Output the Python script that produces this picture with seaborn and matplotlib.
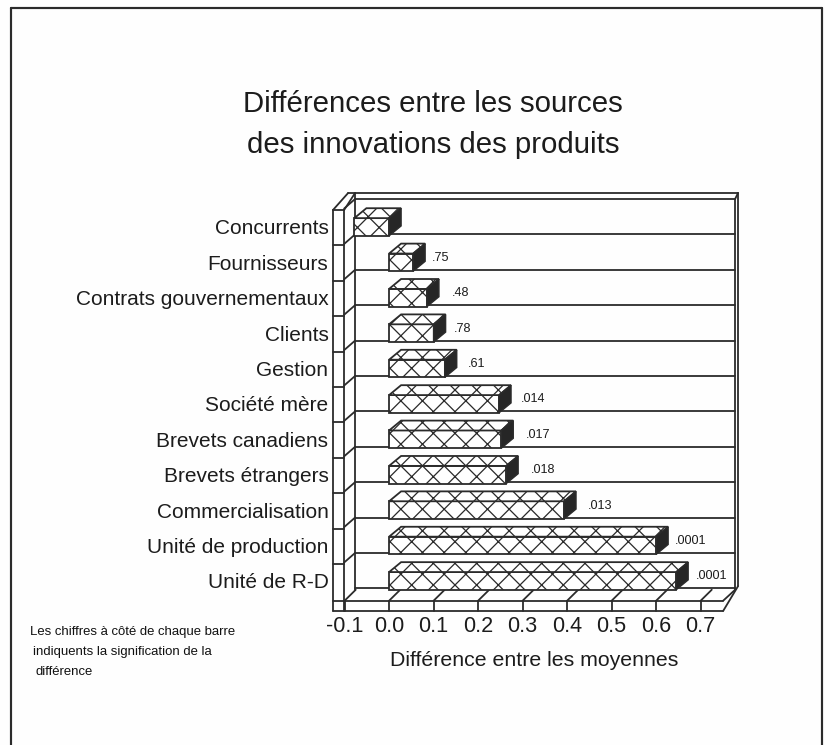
import pandas as pd
import seaborn as sns
import matplotlib
matplotlib.use('Agg')
import matplotlib.pyplot as plt
from matplotlib.lines import Line2D
from matplotlib.patches import Polygon

sources = ['Concurrents', 'Fournisseurs', 'Contrats gouvernementaux', 'Clients', 'Gestion',
           'Société mère', 'Brevets canadiens', 'Brevets étrangers', 'Commercialisation',
           'Unité de production', 'Unité de R-D']
diffs = [-0.078, 0.054, 0.085, 0.10, 0.125, 0.247, 0.252, 0.263, 0.393, 0.60, 0.645]
signif = ['', '.75', '.48', '.78', '.61', '.014', '.017', '.018', '.013', '.0001', '.0001']
xticks = [-0.1, 0.0, 0.1, 0.2, 0.3, 0.4, 0.5, 0.6, 0.7]
note_lines = ['Les chiffres à côté de chaque barre',
              'indiquents la signification de la',
              'différence']

# gap in pixels between bar end and its label, varies in the original
label_gaps = [0, 19, 25, 20, 23, 22, 25, 25, 24, 19, 20]

INK = '#2b2b2b'
TEXT = '#1c1c1c'
DPI = 130
W, H = 825, 745

sns.set_theme(style='white')
plt.rcParams['font.family'] = ['Liberation Sans', 'DejaVu Sans']
plt.rcParams['hatch.linewidth'] = 0.7
plt.rcParams['hatch.color'] = INK

fig = plt.figure(figsize=(W / DPI, H / DPI), dpi=DPI, facecolor='#fefefe')
ax = fig.add_axes([333 / W, 1 - 611 / H, 405 / W, 418 / H])
ax.set_facecolor('none')

df = pd.DataFrame({'source': sources, 'diff': diffs})
sns.barplot(data=df, x='diff', y='source', orient='h', color='white', saturation=1,
            width=0.5, edgecolor=INK, linewidth=1.0, hatch='xx', ax=ax, zorder=5)

ax.set_xlim(-0.126, 0.784)
ax.set_ylim(10.85, -0.96)
sns.despine(ax=ax, left=True, bottom=True)
ax.set_xticks(xticks)
ax.set_xticklabels([f'{t:.1f}' for t in xticks], fontsize=12, color=TEXT)
ax.tick_params(axis='x', length=0, pad=3)
ax.tick_params(axis='y', length=0, pad=2.5, labelsize=11.6, labelcolor=TEXT)
ax.set_xlabel('Différence entre les moyennes', fontsize=11.8, color=TEXT)
ax.set_ylabel('')
ax.xaxis.set_label_coords((534 - 333) / 405, -0.095)


def line(xs, ys, lw=1.0):
    ax.plot(xs, ys, color=INK, lw=lw, clip_on=False, zorder=2, solid_capstyle='round')


# walls of the 3d box
back_x, right_x, outer_r = -0.0764, 0.7775, 0.784
col_l, col_r, front_r = -0.126, -0.101, 0.7506
top_y, back_top = -0.79, -0.96
floor_back, floor_top, floor_bot = 10.25, 10.56, 10.85

line([back_x, back_x], [back_top, floor_back])
line([right_x, right_x], [top_y, floor_back])
line([outer_r, outer_r], [back_top, floor_back - 0.1])
line([-0.092, outer_r], [back_top, back_top])
line([right_x, outer_r], [top_y, back_top])
for i in range(12):
    y = top_y + i
    line([back_x, right_x], [y, y])
    if i < 11:
        line([col_r, back_x], [y + 0.27, y])
        line([col_l, col_r], [y + 0.31, y + 0.31])

line([col_l, col_l], [-0.48, floor_bot])
line([col_r, col_r], [-0.48, floor_bot])
line([col_l, -0.092], [-0.48, back_top])
line([col_r, back_x], [-0.48, back_top])

# floor
line([col_l, front_r], [floor_top, floor_top])
line([col_l, front_r], [floor_bot, floor_bot])
line([front_r, outer_r], [floor_bot, floor_back - 0.1])
line([front_r, right_x], [floor_top, floor_back])
for t in xticks:
    line([t, t], [floor_top, floor_bot])
    line([t, t + 0.025], [floor_top, floor_back])

# bar depth faces
dx, dy = 0.027, 0.28
for bar, sig, gap in zip(ax.patches, signif, label_gaps):
    x0 = bar.get_x()
    x1 = x0 + bar.get_width()
    y0 = bar.get_y()
    y1 = y0 + bar.get_height()
    left, right = min(x0, x1), max(x0, x1)
    top_face = Polygon([(left, y0), (left + dx, y0 - dy), (right + dx, y0 - dy), (right, y0)],
                       facecolor='white', edgecolor=INK, lw=1.0, hatch='xx', zorder=5)
    side_face = Polygon([(right, y0), (right + dx, y0 - dy), (right + dx, y1 - dy), (right, y1)],
                        facecolor='#262626', edgecolor=INK, lw=0.8, zorder=6)
    ax.add_patch(top_face)
    ax.add_patch(side_face)
    if sig:
        ax.annotate(sig, (right, (y0 + y1) / 2), xytext=(gap * 72 / DPI, 4.5 * 72 / DPI),
                    textcoords='offset points', fontsize=7, color=TEXT, va='center', zorder=7)

# page frame runs off the bottom of the scan
for xs, ys in [([11, 11], [745, 8]), ([11, 822], [8, 8]), ([822, 822], [8, 745])]:
    fig.add_artist(Line2D([x / W for x in xs], [1 - y / H for y in ys],
                          transform=fig.transFigure, color=INK, lw=1.2))

fig.text(433 / W, 1 - 112 / H, 'Différences entre les sources', ha='center', va='baseline',
         fontsize=16.3, color=TEXT)
fig.text(433.5 / W, 1 - 153 / H, 'des innovations des produits', ha='center', va='baseline',
         fontsize=16.3, color=TEXT)
for note_x, note_y, note in zip([30, 33, 35], [632, 652, 672], note_lines):
    fig.text(note_x / W, 1 - note_y / H, note, fontsize=7.3, va='center', color='#111111')

fig.savefig('out.png', dpi=DPI, facecolor=fig.get_facecolor())
